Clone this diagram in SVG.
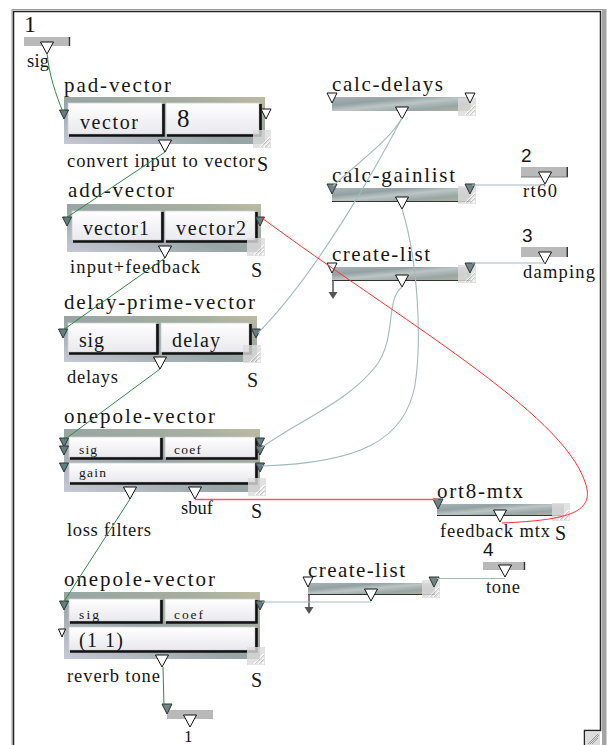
<svg xmlns="http://www.w3.org/2000/svg" xmlns:xlink="http://www.w3.org/1999/xlink" width="608" height="745" viewBox="0 0 608 745">
  <style>
    text { font-family: "Liberation Serif", "Times New Roman", serif; fill: #161616; }
    .t { font-size: 21px; }
    .l { font-size: 18.5px; }
    .f { font-size: 20px; }
    .fs { font-size: 13.5px; }
    .s { font-size: 20px; }
    .num { font-family: "Liberation Sans", Arial, sans-serif; font-size: 19px; }
    .box { fill: url(#boxGrad); }
    .bar { fill: url(#barGrad); }
    .field { fill: url(#fieldGrad); stroke: #cfcfd4; stroke-width: 0.8; }
    .shadow { fill: none; stroke: #111; stroke-width: 2.6; }
    .port { fill: #b9b9b9; }
    .tick { stroke: #333; stroke-width: 1.4; }
    .edge { stroke: #333; stroke-width: 1.2; }
    .green { fill: none; stroke: #2f8a45; stroke-width: 1; }
    .gray { fill: none; stroke: #a3b9b9; stroke-width: 1.1; }
    .red { fill: none; stroke: #ff3030; stroke-width: 1; }
    .red2 { fill: none; stroke: #ff5a5a; stroke-width: 1.6; }
    .stem { stroke: #555; stroke-width: 1.5; }
  </style>
  <defs>
    <linearGradient id="boxGrad" x1="0" y1="1" x2="1" y2="0">
      <stop offset="0" stop-color="#c8c8d6"/>
      <stop offset="0.45" stop-color="#96a4a4"/>
      <stop offset="0.8" stop-color="#a6ae9f"/>
      <stop offset="1" stop-color="#bebca2"/>
    </linearGradient>
    <linearGradient id="barGrad" x1="0" y1="0" x2="1" y2="1">
      <stop offset="0" stop-color="#a9b4b8"/>
      <stop offset="0.3" stop-color="#93a1a4"/>
      <stop offset="0.5" stop-color="#bcc5c3"/>
      <stop offset="0.75" stop-color="#98a6a4"/>
      <stop offset="1" stop-color="#b2b39e"/>
    </linearGradient>
    <linearGradient id="fieldGrad" x1="0" y1="0" x2="0" y2="1">
      <stop offset="0" stop-color="#ffffff"/>
      <stop offset="1" stop-color="#e9e9ee"/>
    </linearGradient>
    <polygon id="out" points="-6.5,0 6.5,0 0,12" fill="#fff" stroke="#111" stroke-width="1"/>
    <polygon id="inW" points="-5,0 5,0 0,10" fill="#fff" stroke="#111" stroke-width="1"/>
    <polygon id="inG" points="-4.5,0 4.5,0 0,9" fill="#5f7f80" stroke="#333" stroke-width="1"/>
    <polygon id="inGb" points="-5,0 5,0 0,10" fill="#6f8585" stroke="#333" stroke-width="1"/>
    <polygon id="inS" points="-3.5,0 3.5,0 0,8" fill="#fff" stroke="#111" stroke-width="1"/>
    <g id="grip" opacity="0.8">
      <rect width="18" height="18" fill="#dcdcdc"/>
      <path d="M7,17 L17,7 M11,17 L17,11 M15,17 L17,15" stroke="#fff" stroke-width="1.2"/>
      <path d="M8,17 L17,8 M12,17 L17,12" stroke="#a8a8a8" stroke-width="0.7"/>
    </g>
  </defs>

  <rect width="608" height="745" fill="#fff"/>

  <!-- window frame -->
  <g id="frame">
    <path d="M12,745 V9.5 H606" stroke="#9a9a9a" stroke-width="1" fill="none"/>
    <path d="M13.5,745 V11.5 H600.5 V730.5 H584.5 V745" stroke="#222" stroke-width="1.5" fill="none"/>
    <rect x="602" y="9" width="4.5" height="736" fill="#a4a4a4"/>
    <rect x="585" y="731.5" width="15" height="14" fill="#dcdcdc"/>
    <path d="M588,744 L598,734 M592,744 L598,738 M590,744 L599,735" stroke="#888" stroke-width="0.8"/>
  </g>

  <!-- inlet 1 -->
  <g id="in1">
    <text x="24" y="32" style="font-size:24px">1</text>
    <rect class="port" x="24" y="37" width="46" height="9"/>
    <line class="tick" x1="69.5" y1="37" x2="69.5" y2="46"/>
    <use xlink:href="#out" x="47" y="42"/>
    <text class="l" x="27" y="67" textLength="22" lengthAdjust="spacing">sig</text>
  </g>

  <!-- pad-vector -->
  <g id="pad-vector">
    <text class="t" x="64" y="92" textLength="107" lengthAdjust="spacing">pad-vector</text>
    <rect class="box" x="64" y="97" width="201" height="47"/>
    <rect class="field" x="68" y="103" width="94" height="31"/>
    <path class="shadow" d="M69,135.5 H163.5 V104"/>
    <rect class="field" x="166" y="103" width="93" height="31"/>
    <path class="shadow" d="M167,135.5 H260.5 V104"/>
    <text class="f" x="80" y="129" textLength="58" lengthAdjust="spacing">vector</text>
    <text x="177" y="127" style="font-size:25px">8</text>
    <use xlink:href="#grip" x="253" y="130"/>
    <use xlink:href="#inG" x="64" y="110"/>
    <use xlink:href="#inW" x="266" y="109"/>
    <use xlink:href="#out" x="165" y="140"/>
    <text class="l" x="67" y="167" textLength="188" lengthAdjust="spacing">convert input to vector</text>
    <text class="s" x="257" y="171">S</text>
  </g>

  <!-- add-vector -->
  <g id="add-vector">
    <text class="t" x="68" y="197" textLength="106" lengthAdjust="spacing">add-vector</text>
    <rect class="box" x="67" y="204" width="194" height="48"/>
    <rect class="field" x="72" y="211" width="89" height="29"/>
    <path class="shadow" d="M73,241.5 H162.5 V212"/>
    <rect class="field" x="165" y="211" width="90" height="29"/>
    <path class="shadow" d="M166,241.5 H256.5 V212"/>
    <text class="f" x="83" y="235" textLength="66" lengthAdjust="spacing">vector1</text>
    <text class="f" x="176" y="235" textLength="70" lengthAdjust="spacing">vector2</text>
    <use xlink:href="#grip" x="247" y="238"/>
    <use xlink:href="#inG" x="67" y="217"/>
    <use xlink:href="#inG" x="260" y="217"/>
    <use xlink:href="#out" x="165" y="246"/>
    <text class="l" x="70" y="273" textLength="130" lengthAdjust="spacing">input+feedback</text>
    <text class="s" x="251" y="277">S</text>
  </g>

  <!-- delay-prime-vector -->
  <g id="delay-prime-vector">
    <text class="t" x="64" y="309" textLength="191" lengthAdjust="spacing">delay-prime-vector</text>
    <rect class="box" x="64" y="316" width="193" height="46"/>
    <rect class="field" x="68" y="323" width="88" height="29"/>
    <path class="shadow" d="M69,353.5 H157.5 V324"/>
    <rect class="field" x="161" y="323" width="88" height="29"/>
    <path class="shadow" d="M162,353.5 H250.5 V324"/>
    <text class="f" x="79" y="347" textLength="25" lengthAdjust="spacing">sig</text>
    <text class="f" x="172" y="347" textLength="48" lengthAdjust="spacing">delay</text>
    <use xlink:href="#grip" x="243" y="345"/>
    <use xlink:href="#inG" x="63" y="329"/>
    <use xlink:href="#inG" x="256" y="329"/>
    <use xlink:href="#out" x="160" y="357"/>
    <text class="l" x="67" y="383" textLength="51" lengthAdjust="spacing">delays</text>
    <text class="s" x="247" y="387">S</text>
  </g>

  <!-- onepole-vector (loss filters) -->
  <g id="onepole-loss">
    <text class="t" x="64" y="423" textLength="151" lengthAdjust="spacing">onepole-vector</text>
    <rect class="box" x="64" y="429" width="196" height="63"/>
    <rect class="field" x="69" y="437" width="91" height="20"/>
    <path class="shadow" d="M70,458.5 H161.5 V438"/>
    <rect class="field" x="165" y="437" width="90" height="20"/>
    <path class="shadow" d="M166,458.5 H256.5 V438"/>
    <rect class="field" x="69" y="463" width="186" height="19"/>
    <path class="shadow" d="M70,483.5 H256.5 V464"/>
    <text class="fs" x="79" y="454" textLength="18" lengthAdjust="spacing">sig</text>
    <text class="fs" x="174" y="454" textLength="27" lengthAdjust="spacing">coef</text>
    <text class="fs" x="79" y="477" textLength="27" lengthAdjust="spacing">gain</text>
    <use xlink:href="#grip" x="248" y="478"/>
    <use xlink:href="#inG" x="64" y="438"/>
    <use xlink:href="#inG" x="64" y="446"/>
    <use xlink:href="#inG" x="64" y="463"/>
    <use xlink:href="#inG" x="260" y="438"/>
    <use xlink:href="#inG" x="260" y="446"/>
    <use xlink:href="#inG" x="260" y="463"/>
    <use xlink:href="#out" x="130" y="487"/>
    <use xlink:href="#out" x="195" y="487"/>
    <text class="l" x="181" y="514" textLength="32" lengthAdjust="spacing">sbuf</text>
    <text class="s" x="251" y="518">S</text>
    <text class="l" x="67" y="536" textLength="84" lengthAdjust="spacing">loss filters</text>
  </g>

  <!-- onepole-vector (reverb tone) -->
  <g id="onepole-tone">
    <text class="t" x="64" y="586" textLength="151" lengthAdjust="spacing">onepole-vector</text>
    <rect class="box" x="64" y="592" width="196" height="67"/>
    <rect class="field" x="69" y="599" width="91" height="22"/>
    <path class="shadow" d="M70,622.5 H161.5 V600"/>
    <rect class="field" x="165" y="599" width="90" height="22"/>
    <path class="shadow" d="M166,622.5 H256.5 V600"/>
    <rect class="field" x="69" y="627" width="186" height="23"/>
    <path class="shadow" d="M70,651.5 H256.5 V628"/>
    <text class="fs" x="79" y="619" textLength="20" lengthAdjust="spacing">sig</text>
    <text class="fs" x="174" y="619" textLength="29" lengthAdjust="spacing">coef</text>
    <text x="79" y="647" style="font-size:20px" textLength="44" lengthAdjust="spacing">(1 1)</text>
    <use xlink:href="#grip" x="247" y="647"/>
    <use xlink:href="#inG" x="64" y="601"/>
    <use xlink:href="#inS" x="62" y="629"/>
    <use xlink:href="#inG" x="260" y="601"/>
    <use xlink:href="#out" x="162" y="655"/>
    <text class="l" x="67" y="682" textLength="93" lengthAdjust="spacing">reverb tone</text>
    <text class="s" x="251" y="687">S</text>
  </g>

  <!-- outlet 1 -->
  <g id="out1">
    <rect class="port" x="167" y="710" width="46" height="9"/>
    <use xlink:href="#inGb" x="167" y="704"/>
    <use xlink:href="#out" x="190" y="715"/>
    <text x="184" y="742" style="font-size:17px">1</text>
  </g>

  <!-- calc-delays -->
  <g id="calc-delays">
    <text class="t" x="332" y="91" textLength="111" lengthAdjust="spacing">calc-delays</text>
    <rect class="bar" x="332" y="97" width="139" height="14"/>
    <use xlink:href="#grip" x="458" y="98"/>
    <use xlink:href="#inW" x="332" y="93"/>
    <use xlink:href="#inW" x="470" y="93"/>
    <use xlink:href="#out" x="402" y="107"/>
  </g>

  <!-- calc-gainlist -->
  <g id="calc-gainlist">
    <text class="t" x="332" y="182" textLength="123" lengthAdjust="spacing">calc-gainlist</text>
    <rect class="bar" x="332" y="188" width="139" height="13"/>
    <line class="edge" x1="332" y1="201.5" x2="471" y2="201.5"/>
    <use xlink:href="#grip" x="458" y="186"/>
    <use xlink:href="#inGb" x="332" y="184"/>
    <use xlink:href="#inGb" x="470" y="184"/>
    <use xlink:href="#out" x="402" y="197"/>
  </g>

  <!-- inlet 2 -->
  <g id="in2">
    <text class="num" x="521" y="162">2</text>
    <rect class="port" x="521" y="167" width="47" height="10"/>
    <line class="tick" x1="567.3" y1="167" x2="567.3" y2="177"/>
    <line x1="521" y1="177" x2="568" y2="177" stroke="#666" stroke-width="0.8"/>
    <use xlink:href="#out" x="545" y="172"/>
    <text class="l" x="523" y="197" textLength="34" lengthAdjust="spacing">rt60</text>
  </g>

  <!-- create-list (gains) -->
  <g id="create-list-a">
    <text class="t" x="332" y="261" textLength="98" lengthAdjust="spacing">create-list</text>
    <rect class="bar" x="332" y="267" width="139" height="13"/>
    <line class="edge" x1="332" y1="280.5" x2="471" y2="280.5"/>
    <line class="stem" x1="333" y1="280" x2="333" y2="293"/>
    <polygon points="328.5,292 337.5,292 333,299" fill="#555"/>
    <use xlink:href="#grip" x="458" y="265"/>
    <use xlink:href="#inW" x="332" y="263"/>
    <use xlink:href="#inGb" x="470" y="263"/>
    <use xlink:href="#out" x="402" y="275"/>
  </g>

  <!-- inlet 3 -->
  <g id="in3">
    <text class="num" x="522" y="242">3</text>
    <rect class="port" x="521" y="247" width="47" height="10"/>
    <line class="tick" x1="567.3" y1="247" x2="567.3" y2="257"/>
    <use xlink:href="#out" x="545" y="252"/>
    <text class="l" x="523" y="278" textLength="72" lengthAdjust="spacing">damping</text>
  </g>

  <!-- ort8-mtx -->
  <g id="ort8-mtx">
    <text class="t" x="437" y="498" textLength="86" lengthAdjust="spacing">ort8-mtx</text>
    <rect class="bar" x="437" y="504" width="127" height="11"/>
    <line class="edge" x1="437" y1="515.5" x2="564" y2="515.5"/>
    <use xlink:href="#grip" x="552" y="503"/>
    <use xlink:href="#inGb" x="438" y="499"/>
    <use xlink:href="#out" x="500" y="510"/>
    <text class="l" x="440" y="537" textLength="110" lengthAdjust="spacing">feedback mtx</text>
    <text class="s" x="555" y="540">S</text>
  </g>

  <!-- inlet 4 -->
  <g id="in4">
    <text class="num" x="483" y="556">4</text>
    <rect class="port" x="483" y="562" width="42" height="8"/>
    <line class="tick" x1="524.5" y1="562" x2="524.5" y2="570"/>
    <use xlink:href="#out" x="505" y="565"/>
    <text class="l" x="486" y="593" textLength="34" lengthAdjust="spacing">tone</text>
  </g>

  <!-- create-list (tone) -->
  <g id="create-list-b">
    <text class="t" x="308" y="577" textLength="97" lengthAdjust="spacing">create-list</text>
    <rect class="bar" x="308" y="583" width="127" height="11"/>
    <line class="edge" x1="308" y1="594.5" x2="435" y2="594.5"/>
    <line class="stem" x1="309" y1="594" x2="309" y2="608"/>
    <polygon points="304.5,607 313.5,607 309,614" fill="#555"/>
    <use xlink:href="#grip" x="422" y="580"/>
    <use xlink:href="#inW" x="308" y="577"/>
    <use xlink:href="#inGb" x="434" y="577"/>
    <use xlink:href="#out" x="371" y="589"/>
  </g>

  <!-- patch cords -->
  <g id="connectors">
    <path class="green" d="M47,53 C49,75 56,95 63,112"/>
    <path class="green" d="M165,152 L66,218"/>
    <path class="green" d="M165,258 L63,330"/>
    <path class="green" d="M160,369 L64,440"/>
    <path class="green" d="M130,499 L63,603"/>
    <path class="green" d="M163,667 L164,706"/>

    <path class="gray" d="M402,118 C390,140 355,165 333,186"/>
    <path class="gray" d="M402,118 C380,160 320,270 258,333"/>
    <path class="gray" d="M402,209 C418,260 422,340 415,385 C405,440 360,463 262,466"/>
    <path class="gray" d="M402,287 C385,300 397,338 376,366 C348,402 300,420 261,448"/>
    <path class="gray" d="M472,185 H545"/>
    <path class="gray" d="M472,263 H545"/>
    <path class="gray" d="M437,578.5 H505"/>
    <path class="gray" d="M371,602 H262"/>

    <path class="red" d="M262,218 C400,320 562,412 585,482 C596,512 570,520 502,523"/>
    <path class="red2" d="M195,499.5 H438"/>
  </g>
</svg>
